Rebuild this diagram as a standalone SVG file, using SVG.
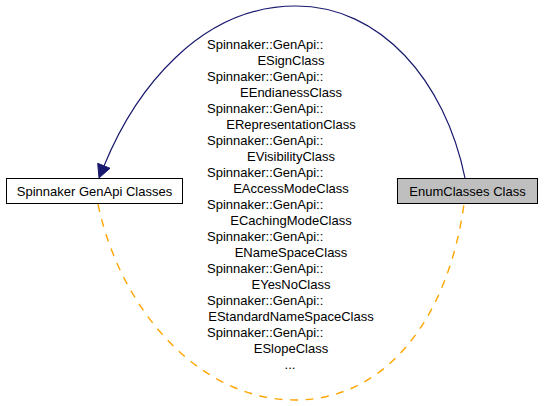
<svg xmlns="http://www.w3.org/2000/svg" width="544" height="406" viewBox="0 0 544 406">
<style>
text{font-family:"Liberation Sans",Arial,sans-serif;font-size:13px;fill:#000}
.node rect{stroke:#000;stroke-width:1}
.c{text-anchor:middle}
.s{text-anchor:start}
</style>
<rect width="544" height="406" fill="#fff"/>
<g id="connectors">
<path d="M465,178 C445,80 380,6 296,6 C200,6 135,90 104,166" fill="none" stroke="#191970" stroke-width="1.2"/>
<polygon points="99,178 97.7,163.3 110,168.3" fill="#191970" stroke="#191970"/>
<path d="M98,204 C120,310 200,400 295,400 C385,400 448,320 464,204" fill="none" stroke="#ffa500" stroke-width="1.4" stroke-dasharray="8,7.5"/>
<g id="edge-label">
<text class="s" x="207" y="49">Spinnaker::GenApi::</text>
<text class="c" x="291" y="65">ESignClass</text>
<text class="s" x="207" y="81">Spinnaker::GenApi::</text>
<text class="c" x="291" y="97">EEndianessClass</text>
<text class="s" x="207" y="113">Spinnaker::GenApi::</text>
<text class="c" x="291" y="129">ERepresentationClass</text>
<text class="s" x="207" y="145">Spinnaker::GenApi::</text>
<text class="c" x="291" y="161">EVisibilityClass</text>
<text class="s" x="207" y="177">Spinnaker::GenApi::</text>
<text class="c" x="291" y="193">EAccessModeClass</text>
<text class="s" x="207" y="209">Spinnaker::GenApi::</text>
<text class="c" x="291" y="225">ECachingModeClass</text>
<text class="s" x="207" y="241">Spinnaker::GenApi::</text>
<text class="c" x="291" y="257">ENameSpaceClass</text>
<text class="s" x="207" y="273">Spinnaker::GenApi::</text>
<text class="c" x="291" y="289">EYesNoClass</text>
<text class="s" x="207" y="305">Spinnaker::GenApi::</text>
<text class="c" x="291" y="321">EStandardNameSpaceClass</text>
<text class="s" x="207" y="337">Spinnaker::GenApi::</text>
<text class="c" x="291" y="353">ESlopeClass</text>
<text class="c" x="290" y="369">...</text>
</g>
</g>
<g id="node-genapi" class="node">
<rect x="6.5" y="178.5" width="176" height="25" fill="#fff"/>
<text class="c" x="94.5" y="195.5">Spinnaker GenApi Classes</text>
</g>
<g id="node-enumclasses" class="node">
<rect x="397.5" y="178.5" width="140" height="25" fill="#bfbfbf"/>
<text class="c" x="467.5" y="195.5">EnumClasses Class</text>
</g>
</svg>
